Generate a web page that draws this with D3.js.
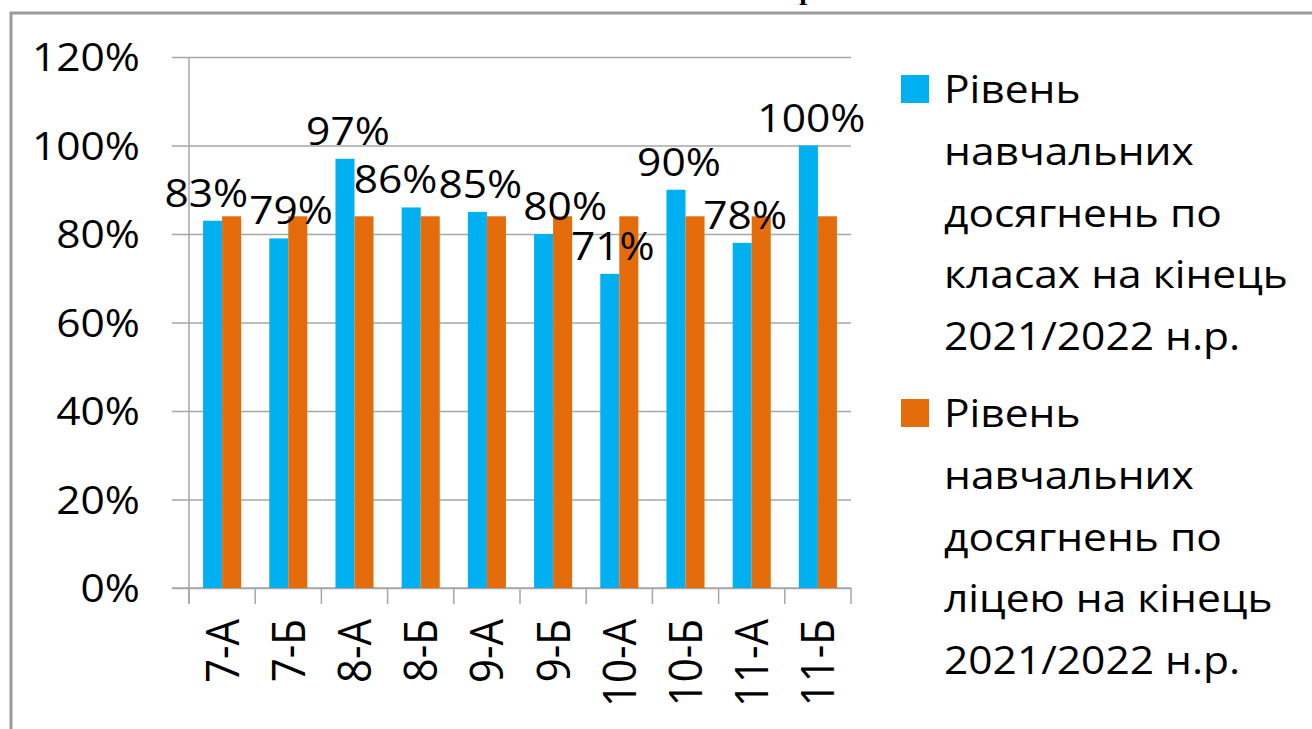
<!DOCTYPE html>
<html lang="uk">
<head>
<meta charset="utf-8">
<script src="https://cdn.jsdelivr.net/npm/d3@7"></script>
<style>
  body { margin: 0; background: #fff; }
  text { font-family: "Open Sans", sans-serif; fill: #000; }
</style>
</head>
<body>
<svg id="chart" width="1312" height="729"></svg>
<script>
// data
const classes = ["7-А", "7-Б", "8-А", "8-Б", "9-А", "9-Б", "10-А", "10-Б", "11-А", "11-Б"];
const classLevel = [0.83, 0.79, 0.97, 0.86, 0.85, 0.80, 0.71, 0.90, 0.78, 1.00];
const lyceumLevel = [0.84, 0.84, 0.84, 0.84, 0.84, 0.84, 0.84, 0.84, 0.84, 0.84];
const yTicks = [0, 0.2, 0.4, 0.6, 0.8, 1.0, 1.2];
const seriesKeys = ["classes", "lyceum"];
const seriesColors = ["#00b0f0", "#e46c0a"];
const legendLines = [
  ["Рівень", "навчальних", "досягнень по", "класах на кінець", "2021/2022 н.р."],
  ["Рівень", "навчальних", "досягнень по", "ліцею на кінець", "2021/2022 н.р."]
];

const FS = 39;      // font size
const FSX = 42;     // category labels look a bit bigger
const SX = 1.09;    // horizontal stretch of the text, like the original
const plotL = 189, plotR = 851, plotT = 57, plotB = 588;

const svg = d3.select("#chart");
const fmt = d3.format(".0%");

// outer frame (only top and left show in the crop)
svg.append("path").attr("d", "M11,729 V13 H1312")
   .attr("fill", "none").attr("stroke", "#9a9a9a").attr("stroke-width", 3);

// cut title fragment at the very top
svg.append("text").attr("x", 807).attr("y", -1).attr("text-anchor", "middle")
   .style("font-family", "'Liberation Serif', serif").style("font-weight", "bold")
   .style("font-size", "28px").text("р");

const x = d3.scaleBand().domain(classes).range([plotL, plotR])
            .paddingInner(0.425).paddingOuter(0.2125);
const x1 = d3.scaleBand().domain(seriesKeys).range([0, x.bandwidth()]);
const y = d3.scaleLinear().domain([0, 1.2]).range([plotB, plotT]);

// gridlines
svg.append("g").attr("transform", "translate(" + plotL + ",0)")
   .call(d3.axisRight(y).tickValues(yTicks).tickSize(plotR - plotL).tickFormat(""))
   .call(g => g.select(".domain").remove())
   .selectAll("line").attr("stroke", "#a6a6a6").attr("stroke-width", 1.5);

// y axis
svg.append("g").attr("transform", "translate(" + plotL + ",0)")
   .call(d3.axisLeft(y).tickValues(yTicks).tickSize(17).tickFormat(""))
   .call(g => g.select(".domain").attr("d", "M0," + plotT + "V" + (plotB + 16)))
   .selectAll("line,path").attr("stroke", "#a6a6a6").attr("stroke-width", 1.5);

svg.append("g").selectAll("text").data(yTicks).join("text")
   .attr("transform", d => "translate(140," + y(d) + ") scale(" + SX + ",1)")
   .attr("dy", "0.36em").attr("text-anchor", "end")
   .style("font-size", FS + "px").text(d => fmt(d));

// x axis with ticks between categories
const bounds = classes.map(c => x(c) - x.step() * x.paddingInner() / 2).concat([plotR]);
svg.append("line").attr("x1", plotL - 17).attr("x2", plotR).attr("y1", plotB).attr("y2", plotB)
   .attr("stroke", "#a6a6a6").attr("stroke-width", 1.5);
svg.append("g").selectAll("line").data(bounds).join("line")
   .attr("x1", d => d).attr("x2", d => d).attr("y1", plotB).attr("y2", plotB + 16)
   .attr("stroke", "#a6a6a6").attr("stroke-width", 1.5);

svg.append("g").selectAll("text").data(classes).join("text")
   .attr("transform", d => "translate(" + (x(d) + x.bandwidth() / 2) + "," + (plotB + 31) + ") scale(" + SX + ",1) rotate(-90)")
   .attr("dy", "0.36em").attr("text-anchor", "end")
   .style("font-size", FSX + "px").text(d => d);

// bars
const rows = classes.map((c, i) => ({ c, classes: classLevel[i], lyceum: lyceumLevel[i] }));
const groups = svg.append("g").selectAll("g").data(rows).join("g")
   .attr("transform", d => "translate(" + x(d.c) + ",0)");
groups.selectAll("rect").data(d => seriesKeys.map((k, j) => ({ k, v: d[k], j }))).join("rect")
   .attr("x", d => x1(d.k)).attr("width", x1.bandwidth())
   .attr("y", d => y(d.v)).attr("height", d => plotB - y(d.v))
   .attr("fill", d => seriesColors[d.j]);

// value labels on the class series, nudged sideways where they collide
const labels = svg.append("g").selectAll("text").data(rows).join("text")
   .attr("text-anchor", "middle").style("font-size", FS + "px")
   .text(d => fmt(d.classes));
const cap = FS * 0.72;
const lab = rows.map((d, i) => ({
  cx: x(d.c) + x1("classes") + x1.bandwidth() / 2 + 3,
  by: y(d.classes) - 14,
  w: labels.nodes()[i].getComputedTextLength() * SX
}));
for (let pass = 0; pass < 40; pass++) {
  for (let i = 1; i < lab.length; i++) {
    const a = lab[i - 1], b = lab[i];
    const vOver = Math.min(a.by, b.by) - (Math.max(a.by, b.by) - cap) > 0;
    const need = (a.w + b.w) / 2 + 1;
    const gap = b.cx - a.cx;
    if (vOver && gap < need) {
      const push = (need - gap) / 2;
      a.cx -= push; b.cx += push;
    }
  }
}
labels.attr("transform", (d, i) => "translate(" + lab[i].cx + "," + lab[i].by + ") scale(" + SX + ",1)");

// legend
const legend = svg.append("g");
const legendTop = [75, 399];
const lineH = 61.8;
legendLines.forEach((lines, i) => {
  legend.append("rect").attr("x", 901).attr("y", legendTop[i]).attr("width", 28).attr("height", 28)
        .attr("fill", seriesColors[i]);
  legend.append("g").selectAll("text").data(lines).join("text")
        .attr("transform", (d, k) => "translate(944," + (legendTop[i] + 28 + k * lineH) + ") scale(" + SX + ",1)")
        .style("font-size", FS + "px").text(d => d);
});
</script>
</body>
</html>
